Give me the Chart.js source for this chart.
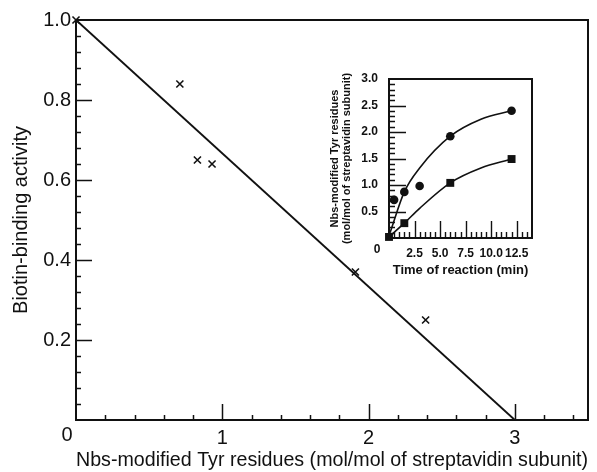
<!DOCTYPE html>
<html>
<head>
  <title>Biotin-binding activity vs Nbs-modified Tyr</title>
  <script src="https://cdn.jsdelivr.net/npm/chart.js"></script>
  <style>
    body { margin: 0; background: #fff; }
    #wrap { position: relative; width: 597px; height: 472px; }
    #wrap canvas { position: absolute; left: 0; top: 0; }
  </style>
</head>
<body>
  <div id="wrap">
    <canvas id="mainChart" width="597" height="472"></canvas>
    <canvas id="insetChart" width="597" height="472"></canvas>
  </div>

  <script>
    // main plot: Nbs-modified Tyr residues vs biotin-binding activity
    const tyrResidues = [0, 0.71, 0.83, 0.93, 1.91, 2.39];
    const bindingActivity = [1.0, 0.84, 0.65, 0.64, 0.37, 0.25];
    const fitX = [0, 3];
    const fitY = [1.0, 0];
    const mainXTicks = [1, 2, 3];
    const mainYTicks = [0.2, 0.4, 0.6, 0.8, 1.0];

    // inset: time course of modification
    const timeCircles = [0.5, 1.5, 3, 6, 12];
    const circleVals = [0.72, 0.87, 0.98, 1.92, 2.40];
    const timeSquares = [0, 1.5, 6, 12];
    const squareVals = [0.02, 0.28, 1.04, 1.49];
    const upperCurveX = [0.1, 1.5, 3, 6, 9, 12];
    const upperCurveY = [0.1, 0.87, 1.32, 1.92, 2.24, 2.40];
    const lowerCurveX = [0, 1.5, 3, 6, 9, 12];
    const lowerCurveY = [0.02, 0.28, 0.56, 1.04, 1.32, 1.49];
    const insetXTicks = [2.5, 5.0, 7.5, 10.0, 12.5];
    const insetYTicks = [0.5, 1.0, 1.5, 2.0, 2.5, 3.0];

    const FONT = '"Liberation Sans", Arial, sans-serif';
    const INK = '#111';

    const pts = (xs, ys) => xs.map((v, i) => ({x: v, y: ys[i]}));
    const useTicks = (list) => (s) => { s.ticks = list.map((v) => ({value: v})); };

    // box around the plot area, inward tick marks and the shared "0" at the corner
    const frameTicks = {
      id: 'frameTicks',
      afterDatasetsDraw(chart, args, o) {
        const {ctx, chartArea: a, scales: {x, y}} = chart;
        ctx.save();
        ctx.strokeStyle = INK;
        ctx.lineWidth = o.tickWidth;
        ctx.beginPath();
        let n = Math.round(x.max / o.xMinor);
        for (let i = 1; i <= n; i++) {
          const v = i * o.xMinor;
          if (v >= x.max - 1e-9) break;
          const isMajor = Math.abs(v / o.xMajor - Math.round(v / o.xMajor)) < 1e-6;
          const px = Math.round(x.getPixelForValue(v)) + 0.5;
          ctx.moveTo(px, a.bottom);
          ctx.lineTo(px, a.bottom - (isMajor ? o.majorLen : o.minorLen));
        }
        n = Math.round(y.max / o.yMinor);
        for (let i = 1; i <= n; i++) {
          const v = i * o.yMinor;
          if (v >= y.max - 1e-9) break;
          const isMajor = Math.abs(v / o.yMajor - Math.round(v / o.yMajor)) < 1e-6;
          const py = Math.round(y.getPixelForValue(v)) + 0.5;
          ctx.moveTo(a.left, py);
          ctx.lineTo(a.left + (isMajor ? o.majorLen : o.minorLen), py);
        }
        ctx.stroke();
        ctx.lineWidth = o.frameWidth;
        ctx.strokeRect(a.left, a.top, a.right - a.left, a.bottom - a.top);
        ctx.fillStyle = INK;
        ctx.font = o.zeroFont;
        ctx.textAlign = 'center';
        ctx.textBaseline = 'middle';
        ctx.fillText('0', x.getPixelForValue(0) + o.zeroDx, y.getPixelForValue(0) + o.zeroDy);
        ctx.restore();
      }
    };

    new Chart(document.getElementById('mainChart'), {
      type: 'scatter',
      data: {
        datasets: [
          {
            data: pts(fitX, fitY),
            showLine: true,
            borderColor: INK,
            borderWidth: 1.8,
            pointRadius: 0,
            clip: false
          },
          {
            data: pts(tyrResidues, bindingActivity),
            pointStyle: 'crossRot',
            pointRadius: 5,
            borderColor: INK,
            borderWidth: 1.6,
            clip: false
          }
        ]
      },
      options: {
        responsive: false,
        animation: false,
        layout: { padding: { left: 0, top: 20, right: 9, bottom: 0 } },
        plugins: {
          legend: { display: false },
          tooltip: { enabled: false },
          frameTicks: {
            xMinor: 0.2, xMajor: 1, yMinor: 0.04, yMajor: 0.2,
            minorLen: 5, majorLen: 16, tickWidth: 1.5, frameWidth: 2,
            zeroFont: '20px ' + FONT, zeroDx: -9, zeroDy: 15
          }
        },
        scales: {
          x: {
            type: 'linear',
            min: 0,
            max: 3.5,
            afterBuildTicks: useTicks(mainXTicks),
            afterFit: (s) => { s.height = 52; },
            grid: { display: false, drawTicks: false },
            border: { display: false },
            ticks: {
              autoSkip: false,
              maxRotation: 0,
              padding: 6,
              color: INK,
              font: { family: FONT, size: 20 },
              callback: (v) => String(v)
            },
            title: {
              display: true,
              text: 'Nbs-modified Tyr residues (mol/mol of streptavidin subunit)',
              color: INK,
              font: { family: FONT, size: 20 },
              padding: { top: 0, bottom: 0 }
            }
          },
          y: {
            min: 0,
            max: 1.0,
            afterBuildTicks: useTicks(mainYTicks),
            afterFit: (s) => { s.width = 76; },
            grid: { display: false, drawTicks: false },
            border: { display: false },
            ticks: {
              autoSkip: false,
              padding: 5,
              color: INK,
              font: { family: FONT, size: 20 },
              callback: (v) => v.toFixed(1)
            },
            title: {
              display: true,
              text: 'Biotin-binding activity',
              color: INK,
              font: { family: FONT, size: 20 },
              padding: { top: 9, bottom: 0 }
            }
          }
        }
      },
      plugins: [frameTicks]
    });

    new Chart(document.getElementById('insetChart'), {
      type: 'scatter',
      data: {
        datasets: [
          {
            data: pts(upperCurveX, upperCurveY),
            showLine: true,
            cubicInterpolationMode: 'monotone',
            borderColor: INK,
            borderWidth: 1.6,
            pointRadius: 0
          },
          {
            data: pts(lowerCurveX, lowerCurveY),
            showLine: true,
            cubicInterpolationMode: 'monotone',
            borderColor: INK,
            borderWidth: 1.6,
            pointRadius: 0
          },
          {
            data: pts(timeCircles, circleVals),
            pointStyle: 'circle',
            pointRadius: 4.3,
            backgroundColor: INK,
            borderColor: INK,
            borderWidth: 0,
            clip: false
          },
          {
            data: pts(timeSquares, squareVals),
            pointStyle: 'rect',
            pointRadius: 5.6,
            backgroundColor: INK,
            borderColor: INK,
            borderWidth: 0,
            clip: false
          }
        ]
      },
      options: {
        responsive: false,
        animation: false,
        layout: { padding: { left: 329, top: 79, right: 65, bottom: 194 } },
        plugins: {
          legend: { display: false },
          tooltip: { enabled: false },
          frameTicks: {
            xMinor: 0.5, xMajor: 2.5, yMinor: 0.1, yMajor: 0.5,
            minorLen: 6, majorLen: 17, tickWidth: 1.4, frameWidth: 2,
            zeroFont: 'bold 12px ' + FONT, zeroDx: -12, zeroDy: 12
          }
        },
        scales: {
          x: {
            type: 'linear',
            min: 0,
            max: 14,
            afterBuildTicks: useTicks(insetXTicks),
            afterFit: (s) => { s.height = 40; },
            grid: { display: false, drawTicks: false },
            border: { display: false },
            ticks: {
              autoSkip: false,
              maxRotation: 0,
              padding: 8,
              color: INK,
              font: { family: FONT, size: 12, weight: 'bold' },
              callback: (v) => v.toFixed(1)
            },
            title: {
              display: true,
              text: 'Time of reaction (min)',
              color: INK,
              font: { family: FONT, size: 13, weight: 'bold' },
              padding: { top: 0, bottom: 0 }
            }
          },
          y: {
            min: 0,
            max: 3.0,
            afterBuildTicks: useTicks(insetYTicks),
            afterFit: (s) => { s.width = 60; },
            grid: { display: false, drawTicks: false },
            border: { display: false },
            ticks: {
              autoSkip: false,
              padding: 11,
              color: INK,
              font: { family: FONT, size: 12, weight: 'bold' },
              callback: (v) => v.toFixed(1)
            },
            title: {
              display: true,
              text: ['Nbs-modified Tyr residues', '(mol/mol of streptavidin subunit)'],
              color: INK,
              font: { family: FONT, size: 11, weight: 'bold', lineHeight: 1.1 },
              padding: { top: 0, bottom: 0 }
            }
          }
        }
      },
      plugins: [frameTicks]
    });
  </script>
</body>
</html>
